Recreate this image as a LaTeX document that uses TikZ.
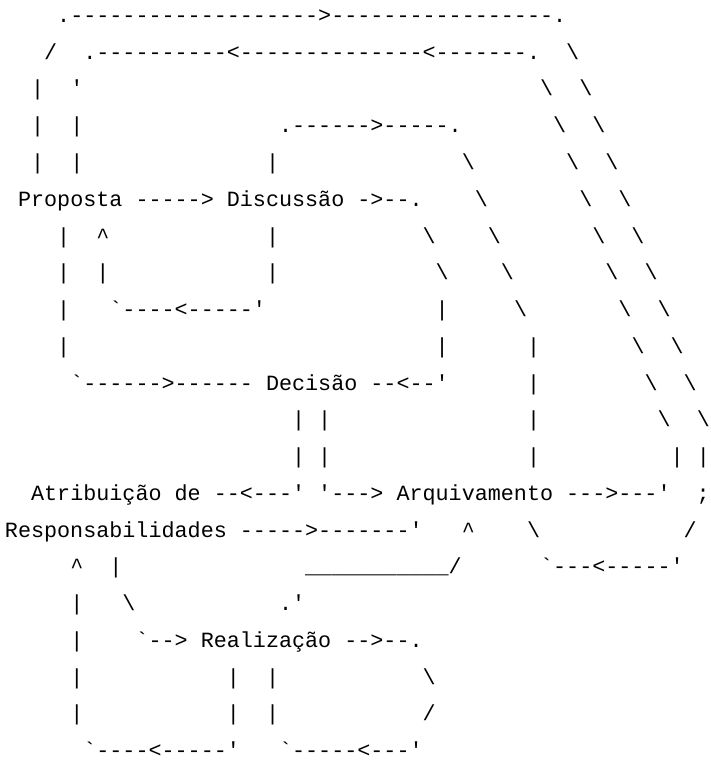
\documentclass[tikz,border=0pt]{standalone}
\usepackage{fontspec}
\setmonofont{Liberation Mono}
\usepackage{tikz}

\newcommand{\gap}[1]{\hspace*{#1\fontcharwd\font`\-}}
\newcommand{\bs}{\textbackslash}
\newcommand{\up}{\textasciicircum}

\begin{document}
\begin{tikzpicture}[artline/.style={anchor=base west, inner sep=0pt, outer sep=0pt,
        font=\ttfamily\fontsize{21.75pt}{36.75pt}\selectfont\frenchspacing}]
    \useasboundingbox (0,0) rectangle (710pt,-762pt);

    \node[artline] (l1) at (5pt,-22.5pt) {\gap{4}.------------------->-----------------.};
    \node[artline] (l2) at (5pt,-59.25pt) {\gap{3}/\gap{2}.----------<--------------<-------.\gap{2}\bs};
    \node[artline] (l3) at (5pt,-96pt) {\gap{2}|\gap{2}'\gap{35}\bs\gap{2}\bs};
    \node[artline] (l4) at (5pt,-132.75pt) {\gap{2}|\gap{2}|\gap{15}.------>-----.\gap{7}\bs\gap{2}\bs};
    \node[artline] (l5) at (5pt,-169.5pt) {\gap{2}|\gap{2}|\gap{14}|\gap{14}\bs\gap{7}\bs\gap{2}\bs};
    \node[artline] (l6) at (5pt,-206.25pt) {\gap{1}Proposta -----> Discussão ->--.\gap{4}\bs\gap{7}\bs\gap{2}\bs};
    \node[artline] (l7) at (5pt,-243pt) {\gap{4}|\gap{2}\up\gap{12}|\gap{11}\bs\gap{4}\bs\gap{7}\bs\gap{2}\bs};
    \node[artline] (l8) at (5pt,-279.75pt) {\gap{4}|\gap{2}|\gap{12}|\gap{12}\bs\gap{4}\bs\gap{7}\bs\gap{2}\bs};
    \node[artline] (l9) at (5pt,-316.5pt) {\gap{4}|\gap{3}`----<-----'\gap{13}|\gap{5}\bs\gap{7}\bs\gap{2}\bs};
    \node[artline] (l10) at (5pt,-353.25pt) {\gap{4}|\gap{28}|\gap{6}|\gap{7}\bs\gap{2}\bs};
    \node[artline] (l11) at (5pt,-390pt) {\gap{5}`------>------ Decisão --<--'\gap{6}|\gap{8}\bs\gap{2}\bs};
    \node[artline] (l12) at (5pt,-426.75pt) {\gap{22}|\gap{1}|\gap{15}|\gap{9}\bs\gap{2}\bs};
    \node[artline] (l13) at (5pt,-463.5pt) {\gap{22}|\gap{1}|\gap{15}|\gap{10}|\gap{1}|};
    \node[artline] (l14) at (5pt,-500.25pt) {\gap{2}Atribuição de --<---' '---> Arquivamento --->---'\gap{2};};
    \node[artline] (l15) at (5pt,-537pt) {Responsabilidades ----->-------'\gap{3}\up\gap{4}\bs\gap{11}/};
    \node[artline] (l16) at (5pt,-573.75pt) {\gap{5}\up\gap{2}|\gap{14}\_\_\_\_\_\_\_\_\_\_\_/\gap{6}`---<-----'};
    \node[artline] (l17) at (5pt,-610.5pt) {\gap{5}|\gap{3}\bs\gap{11}.'};
    \node[artline] (l18) at (5pt,-647.25pt) {\gap{5}|\gap{4}`--> Realização -->--.};
    \node[artline] (l19) at (5pt,-684pt) {\gap{5}|\gap{11}|\gap{2}|\gap{11}\bs};
    \node[artline] (l20) at (5pt,-720.75pt) {\gap{5}|\gap{11}|\gap{2}|\gap{11}/};
    \node[artline] (l21) at (5pt,-757.5pt) {\gap{6}`----<-----'\gap{3}`-----<---'};

\end{tikzpicture}
\end{document}
